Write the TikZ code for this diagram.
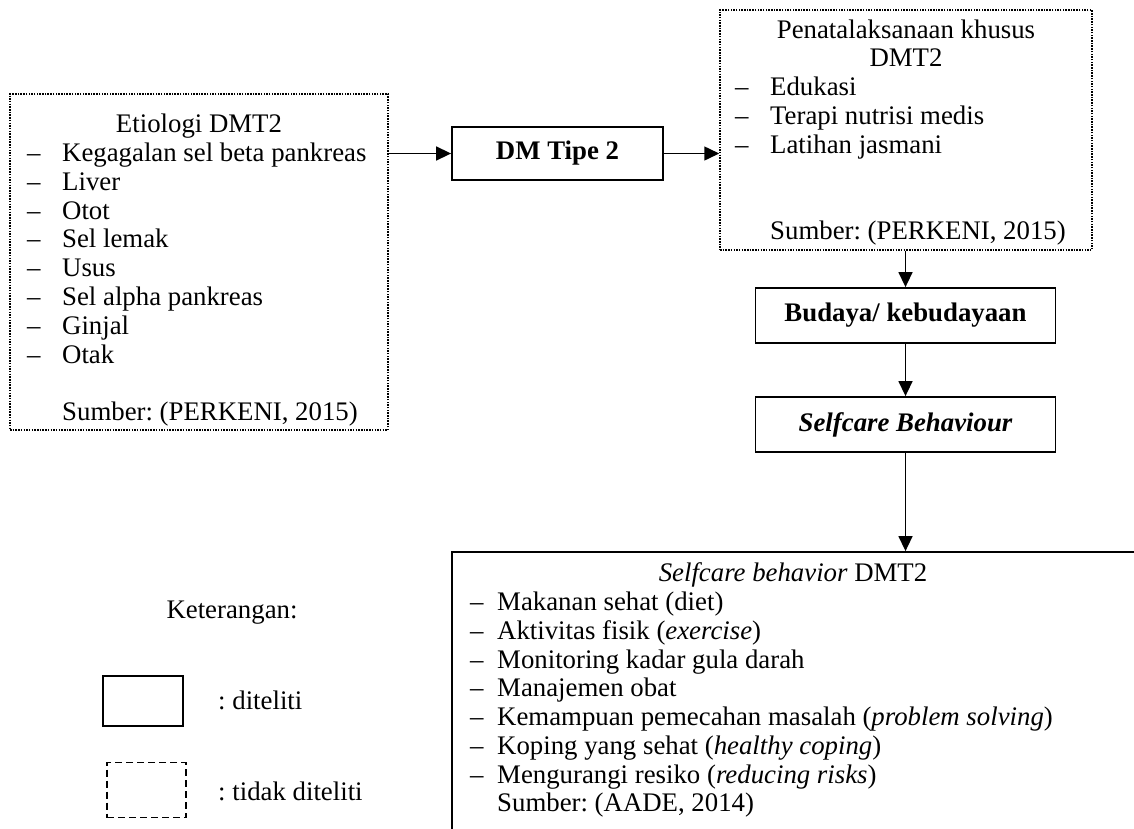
\documentclass[tikz,border=0pt]{standalone}
\usepackage{fontspec}
\setmainfont{Liberation Serif}
\usetikzlibrary{arrows.meta}
\frenchspacing
\newcommand\itm[2][35pt]{\strut\makebox[#1][l]{–}#2}
\begin{document}
\begin{tikzpicture}[x=1pt,y=-1pt,
  every node/.style={font=\fontsize{26.8}{28.8}\selectfont, inner sep=0pt},
  dotbox/.style={draw, line width=1.5pt, dash pattern=on 1.5pt off 1.2pt},
  solidbox/.style={draw, line width=1.8pt},
  dashbox/.style={draw, line width=1.8pt, dash pattern=on 7pt off 4pt},
  listtext/.style={anchor=north west, align=left},
  boldtext/.style={font=\fontsize{26.8}{28.8}\selectfont\bfseries},
  conn/.style={line width=1.5pt, -{Triangle[length=15pt,width=14pt]}}]
\useasboundingbox (0,0) rectangle (1134,828);
\clip (0,0) rectangle (1134,828);
% left box
\node[dotbox, minimum width=378pt, minimum height=336pt] (etio) at (199,262) {};
\node[anchor=base] (etiot) at (199,132.5) {Etiologi DMT2};
\node[listtext] (etiol) at (27,141.1) {\itm{Kegagalan sel beta pankreas}\\ \itm{Liver}\\ \itm{Otot}\\ \itm{Sel lemak}\\ \itm{Usus}\\ \itm{Sel alpha pankreas}\\ \itm{Ginjal}\\ \itm{Otak}};
\node[anchor=base west] (etios) at (62,420.5) {Sumber: (PERKENI, 2015)};
% DM tipe 2
\node[solidbox, boldtext, minimum width=211pt, minimum height=53pt] (dm) at (557.5,153.5) {DM Tipe 2};
% right box
\node[dotbox, minimum width=372pt, minimum height=240pt] (pen) at (906,130) {};
\node[anchor=base] (pent) at (906,38) {Penatalaksanaan khusus};
\node[anchor=base] (pent2) at (906,66.8) {DMT2};
\node[listtext] (penl) at (735,75.4) {\itm{Edukasi}\\ \itm{Terapi nutrisi medis}\\ \itm{Latihan jasmani}};
\node[anchor=base west] (pens) at (770,239) {Sumber: (PERKENI, 2015)};
% budaya
\node[solidbox, boldtext, minimum width=300pt, minimum height=55pt] (bud) at (905.5,315.5) {Budaya/ kebudayaan};
% selfcare behaviour
\node[solidbox, boldtext, minimum width=300pt, minimum height=55pt] (sel) at (905.5,424.5) {\itshape Selfcare Behaviour};
% big box
\node[solidbox, minimum width=708pt, minimum height=308pt] (big) at (806,706) {};
\node[anchor=base] (bigt) at (793,581.5) {\textit{Selfcare behavior} DMT2};
\node[listtext] (bigl) at (470,590.1) {\itm[27pt]{Makanan sehat (diet)}\\ \itm[27pt]{Aktivitas fisik (\textit{exercise})}\\ \itm[27pt]{Monitoring kadar gula darah}\\ \itm[27pt]{Manajemen obat}\\ \itm[27pt]{Kemampuan pemecahan masalah (\textit{problem solving})}\\ \itm[27pt]{Koping yang sehat (\textit{healthy coping})}\\ \itm[27pt]{Mengurangi resiko (\textit{reducing risks})}};
\node[anchor=base west] (bigs) at (497,811.9) {Sumber: (AADE, 2014)};
% connectors
\draw[conn] (etio.east |- dm.west) -- (dm.west);
\draw[conn] (dm.east) -- (dm.east -| pen.west);
\draw[conn] (pen.south -| bud.north) -- (bud.north);
\draw[conn] (bud.south) -- (sel.north);
\draw[conn] (sel.south) -- (sel.south |- big.north);
% legend
\node[anchor=base] (ket) at (232,618.5) {Keterangan:};
\node[solidbox, minimum width=80pt, minimum height=50pt] (lg1) at (143,701) {};
\node[anchor=base west] (lg1t) at (218,709.5) {: diteliti};
\node[dashbox, minimum width=79pt, minimum height=55pt] (lg2) at (146.5,790) {};
\node[anchor=base west] (lg2t) at (218,800.5) {: tidak diteliti};
\end{tikzpicture}
\end{document}
